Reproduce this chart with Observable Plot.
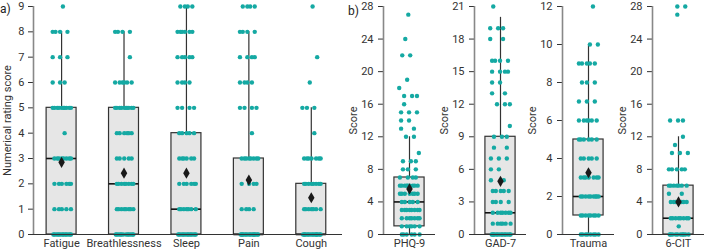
<!DOCTYPE html>
<html><head><meta charset="utf-8">
<script src="https://cdn.jsdelivr.net/npm/d3@7"></script>
<script src="https://cdn.jsdelivr.net/npm/@observablehq/plot@0.6"></script>
<style>
body{margin:0;background:#fff;}
#wrap{position:relative;width:704px;height:252px;overflow:hidden;}
.panel{position:absolute;top:0;}
.tag{position:absolute;font:12px Roboto,sans-serif;color:#222;}
</style></head><body>
<div id="wrap">
  <div class="tag" style="left:0px;top:2px">a)</div>
  <div class="tag" style="left:348px;top:4px">b)</div>
</div>
<script>
// ---- Panel a: symptom numerical rating scores ----
const symptoms = ["Fatigue", "Breathlessness", "Sleep", "Pain", "Cough"];
const symptomScoreValues = [0, 1, 2, 3, 4, 5, 6, 7, 8, 9];
const fatigueCounts        = [13, 5, 6, 8, 1, 10, 3, 3, 4, 1];
const breathlessnessCounts = [12, 8, 8, 5, 6, 10, 6, 1, 4, 0];
const sleepCounts          = [13, 7, 6, 6, 5, 4, 4, 5, 6, 4];
const painCounts           = [15, 4, 4, 8, 1, 4, 4, 4, 4, 4];
const coughCounts          = [15, 7, 8, 7, 1, 3, 1, 1, 0, 1];
const symptomQ1     = [0, 0, 0, 0, 0];
const symptomMedian = [3, 2, 1, 0, 0];
const symptomQ3     = [5, 5, 4, 3, 2];
const symptomLow    = [0, 0, 0, 0, 0];
const symptomHigh   = [8, 8, 9, 8, 5];
const symptomMean   = [2.85, 2.42, 2.42, 2.15, 1.45];
const symptomTicks  = [0, 1, 2, 3, 4, 5, 6, 7, 8, 9];

// ---- Panel b: questionnaire scores ----
const scaleNames = ["PHQ-9", "GAD-7", "Trauma", "6-CIT"];
const phq9Values  = [0, 1, 2, 3, 4, 5, 6, 7, 8, 9, 10, 12, 13, 14, 15, 16, 17, 18, 19, 22, 24, 27];
const phq9Counts  = [6, 6, 7, 8, 5, 7, 9, 4, 3, 3, 1, 2, 2, 2, 3, 1, 3, 1, 1, 2, 1, 1];
const gad7Values  = [0, 1, 2, 3, 4, 5, 6, 7, 8, 9, 10, 12, 13, 14, 15, 16, 18, 19, 21];
const gad7Counts  = [14, 6, 7, 4, 5, 2, 2, 3, 2, 3, 1, 3, 2, 2, 4, 4, 2, 3, 1];
const traumaValues = [0, 1, 2, 3, 4, 5, 6, 7, 8, 9, 10, 12];
const traumaCounts = [8, 8, 9, 7, 5, 6, 6, 3, 3, 5, 2, 1];
const cit6Values  = [0, 1, 2, 4, 5, 6, 8, 10, 11, 12, 14, 27, 28];
const cit6Counts  = [10, 1, 8, 7, 2, 7, 5, 3, 1, 1, 3, 1, 2];
const scaleQ1     = [1, 0, 1, 0];
const scaleMedian = [4, 2, 2, 2];
const scaleQ3     = [7, 9, 5, 6];
const scaleLow    = [0, 0, 0, 0];
const scaleHigh   = [12, 20, 10, 12];
const scaleMean   = [5.6, 4.9, 3.25, 4.0];
const phq9Ticks   = [0, 4, 8, 12, 16, 20, 24, 28];
const gad7Ticks   = [0, 3, 6, 9, 12, 15, 18, 21];
const traumaTicks = [0, 2, 4, 6, 8, 10, 12];
const cit6Ticks   = [0, 4, 8, 12, 16, 20, 24, 28];

const TEAL = "#15a9a3";
const FONT = {fontFamily: "Roboto, sans-serif", fontSize: "11px", color: "#333", background: "transparent"};

// deterministic spread of points around the box centre (fraction in [-0.5, 0.5])
function spread(j, v) { return ((j * 0.6180339887 + v * 0.3819660113 + 0.13) % 1) - 0.5; }

function pointsFrom(values, counts, centre, jitterUnits) {
  const out = [];
  values.forEach((v, k) => {
    for (let j = 0; j < counts[k]; j++) out.push({x: centre + spread(j, v) * jitterUnits, v});
  });
  return out;
}

const wrap = document.getElementById("wrap");
function place(node, left) {
  const d = document.createElement("div");
  d.className = "panel"; d.style.left = left + "px";
  d.appendChild(node); wrap.appendChild(d);
}

// Panel a
const symptomCounts = [fatigueCounts, breathlessnessCounts, sleepCounts, painCounts, coughCounts];
const boxesA = symptoms.map((name, i) => ({
  name, x: i + 1, q1: symptomQ1[i], med: symptomMedian[i], q3: symptomQ3[i],
  lo: symptomLow[i], hi: symptomHigh[i], mean: symptomMean[i]
}));
const halfA = 0.24, jitA = 0.31;
const ptsA = symptomCounts.flatMap((c, i) => pointsFrom(symptomScoreValues, c, i + 1, jitA));

const chartA = Plot.plot({
  width: 345, height: 252,
  marginLeft: 33, marginRight: 3, marginTop: 6, marginBottom: 18,
  style: FONT,
  x: {domain: [0.55, 5.5], ticks: [1, 2, 3, 4, 5], tickFormat: d => symptoms[d - 1], tickSize: 0, tickPadding: 5, label: null},
  y: {domain: [0, 9], ticks: symptomTicks, tickSize: 5, tickPadding: 4, label: "Numerical rating score", labelAnchor: "center", labelOffset: 30, labelArrow: false},
  marks: [
    Plot.ruleX(boxesA, {x: "x", y1: "lo", y2: "hi", stroke: "#333", strokeWidth: 1.2}),
    Plot.rect(boxesA, {x1: d => d.x - halfA, x2: d => d.x + halfA, y1: "q1", y2: "q3", fill: "#e6e6e6", stroke: "#333", strokeWidth: 1.2}),
    Plot.ruleY(boxesA, {x1: d => d.x - halfA, x2: d => d.x + halfA, y: "med", stroke: "#111", strokeWidth: 1.6}),
    Plot.dot(ptsA, {x: "x", y: "v", r: 2.2, fill: TEAL, stroke: "none"}),
    Plot.dot(boxesA, {x: "x", y: "mean", symbol: "diamond", r: 3.4, fill: "#1a1a1a", stroke: "none"}),
    Plot.ruleY([0], {stroke: "#333", strokeWidth: 1.2}),
    Plot.ruleX([0.55], {stroke: "#888", strokeWidth: 1.6})
  ]
});
place(chartA, 0);

// Panel b
const bSets = [
  [phq9Values, phq9Counts, phq9Ticks],
  [gad7Values, gad7Counts, gad7Ticks],
  [traumaValues, traumaCounts, traumaTicks],
  [cit6Values, cit6Counts, cit6Ticks]
];
const bLefts = [345, 436, 524, 614];
scaleNames.forEach((name, i) => {
  const [vals, cnts, ticks] = bSets[i];
  const box = [{name, x: 0.5, q1: scaleQ1[i], med: scaleMedian[i], q3: scaleQ3[i], lo: scaleLow[i], hi: scaleHigh[i], mean: scaleMean[i]}];
  const half = 0.29, jit = 0.40;
  const pts = pointsFrom(vals, cnts, 0.5, jit);
  const chart = Plot.plot({
    width: 90, height: 252,
    marginLeft: 38, marginRight: 0, marginTop: 6, marginBottom: 18,
    style: FONT,
    x: {domain: [0, 1], ticks: [0.5], tickFormat: () => name, tickSize: 0, tickPadding: 5, label: null},
    y: {domain: [0, ticks[ticks.length - 1]], ticks, tickSize: 5, tickPadding: 5, label: "Score", labelAnchor: "center", labelOffset: 34, labelArrow: false},
    marks: [
      Plot.ruleX(box, {x: "x", y1: "lo", y2: "hi", stroke: "#333", strokeWidth: 1.2}),
      Plot.rect(box, {x1: d => d.x - half, x2: d => d.x + half, y1: "q1", y2: "q3", fill: "#e6e6e6", stroke: "#333", strokeWidth: 1.2}),
      Plot.ruleY(box, {x1: d => d.x - half, x2: d => d.x + half, y: "med", stroke: "#111", strokeWidth: 1.6}),
      Plot.dot(pts, {x: "x", y: "v", r: 2.2, fill: TEAL, stroke: "none"}),
      Plot.dot(box, {x: "x", y: "mean", symbol: "diamond", r: 3.4, fill: "#1a1a1a", stroke: "none"}),
      Plot.ruleY([0], {stroke: "#333", strokeWidth: 1.2}),
      Plot.ruleX([0], {stroke: "#888", strokeWidth: 1.6})
    ]
  });
  place(chart, bLefts[i]);
});
</script>
</body></html>
